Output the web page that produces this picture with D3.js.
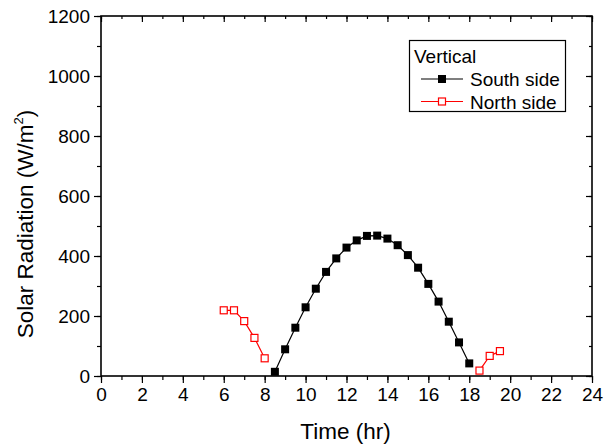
<!DOCTYPE html>
<html><head><meta charset="utf-8">
<script src="https://cdn.jsdelivr.net/npm/d3@7/dist/d3.min.js"></script>
<style>body{margin:0;background:#fff;} text{font-family:"Liberation Sans",Arial,sans-serif;}</style>
</head><body><svg id="c" width="606" height="447"></svg>
<script>
const southTime = [8.5,9,9.5,10,10.5,11,11.5,12,12.5,13,13.5,14,14.5,15,15.5,16,16.5,17,17.5,18];
const southValue = [14,89,161,229,291,347,392,428,452,467,468,458,436,403,361,307,248,181,112,42];
const northTime = [6,6.5,7,7.5,8,null,18.5,19,19.5];
const northValue = [219,219,183,127,59,null,18,67,83];
const xTicks = [0,2,4,6,8,10,12,14,16,18,20,22,24];
const yTicks = [0,200,400,600,800,1000,1200];
const legendTitle = "Vertical";
const seriesNames = ["South side","North side"];

(function(){
const svg = d3.select("#c");
const L=101,R=592,T=16,B=376;
const x = d3.scaleLinear().domain([0,24]).range([L,R]);
const y = d3.scaleLinear().domain([0,1200]).range([B,T]);
const fs = 19;

const xMinor = d3.range(0,25,1), yMinor = d3.range(0,1201,100);
const g = svg.append("g");
const fmt = d3.format("d");
const axBottom = d3.axisBottom(x).tickValues(xTicks).tickSize(7).tickPadding(5).tickFormat(fmt);
const bMinor = d3.axisBottom(x).tickValues(xMinor).tickSize(4).tickFormat("");
const axLeft = d3.axisLeft(y).tickValues(yTicks).tickSize(7).tickPadding(4).tickFormat(fmt);
const lMinor = d3.axisLeft(y).tickValues(yMinor).tickSize(4).tickFormat("");
const axTop = d3.axisBottom(x).tickValues(xTicks).tickSize(6).tickFormat("");
const tMinor = d3.axisBottom(x).tickValues(xMinor).tickSize(3).tickFormat("");
const axRight = d3.axisLeft(y).tickValues(yTicks).tickSize(6).tickFormat("");
const rMinor = d3.axisLeft(y).tickValues(yMinor).tickSize(3).tickFormat("");

function style(sel){
  sel.selectAll(".tick line").attr("stroke","#000").attr("stroke-width",1.2);
  sel.selectAll(".tick text").attr("fill","#000").style("font-size",fs+"px").style("font-family","Liberation Sans, Arial, sans-serif");
  sel.attr("font-family",null).attr("font-size",null);
}
style(g.append("g").attr("transform",`translate(0,${B})`).call(bMinor));
style(g.append("g").attr("transform",`translate(0,${B})`).call(axBottom));
style(g.append("g").attr("transform",`translate(${L},0)`).call(lMinor));
style(g.append("g").attr("transform",`translate(${L},0)`).call(axLeft));
style(g.append("g").attr("transform",`translate(0,${T})`).call(tMinor));
style(g.append("g").attr("transform",`translate(0,${T})`).call(axTop));
style(g.append("g").attr("transform",`translate(${R},0)`).call(rMinor));
style(g.append("g").attr("transform",`translate(${R},0)`).call(axRight));
svg.selectAll(".domain").remove();
svg.append("rect").attr("x",L).attr("y",T).attr("width",R-L).attr("height",B-T)
  .attr("fill","none").attr("stroke","#000").attr("stroke-width",1.6);

svg.append("text").attr("x",(L+R)/2-1).attr("y",439).attr("text-anchor","middle")
  .style("font-size","22.5px").text("Time (hr)");
const yt = svg.append("text").attr("transform","translate(33,224) rotate(-90)").attr("text-anchor","middle")
  .style("font-size","22.5px");
yt.append("tspan").text("Solar Radiation (W/m");
yt.append("tspan").attr("dy",-10).style("font-size","13px").text("2");
yt.append("tspan").attr("dy",10).text(")");

const south = southTime.map((t,i)=>({t,v:southValue[i]}));
const north = northTime.map((t,i)=>({t,v:northValue[i]}));
const line = d3.line().defined(d=>d.t!==null && d.v!==null).x(d=>x(d.t)).y(d=>y(d.v));
svg.append("path").attr("d",line(south)).attr("fill","none").attr("stroke","#000").attr("stroke-width",1.2);
svg.append("path").attr("d",line(north)).attr("fill","none").attr("stroke","#ff0000").attr("stroke-width",1.2);
const ms=8;
svg.selectAll(".s").data(south).enter().append("rect")
  .attr("x",d=>x(d.t)-ms/2).attr("y",d=>y(d.v)-ms/2).attr("width",ms).attr("height",ms).attr("fill","#000");
svg.selectAll(".n").data(north.filter(d=>d.t!==null)).enter().append("rect")
  .attr("x",d=>x(d.t)-ms/2+0.5).attr("y",d=>y(d.v)-ms/2+0.5).attr("width",ms-1).attr("height",ms-1)
  .attr("fill","#fff").attr("stroke","#ff0000").attr("stroke-width",1.2);

const lg = svg.append("g");
lg.append("rect").attr("x",409.5).attr("y",40.5).attr("width",156).attr("height",71)
  .attr("fill","#fff").attr("stroke","#000").attr("stroke-width",1.2);
lg.append("text").attr("x",414).attr("y",63).style("font-size","19px").text(legendTitle);
const rows=[{y:79,c:"#000"},{y:101.5,c:"#ff0000"}];
rows.forEach((r,i)=>{
  lg.append("line").attr("x1",421).attr("x2",463).attr("y1",r.y).attr("y2",r.y).attr("stroke",r.c).attr("stroke-width",1.2);
  if(i===0) lg.append("rect").attr("x",438).attr("y",r.y-4).attr("width",8).attr("height",8).attr("fill","#000");
  else lg.append("rect").attr("x",438.5).attr("y",r.y-3.5).attr("width",7).attr("height",7).attr("fill","#fff").attr("stroke","#ff0000").attr("stroke-width",1.2);
  lg.append("text").attr("x",470).attr("y",r.y+7).style("font-size","19px").text(seriesNames[i]);
});
})();
</script></body></html>
